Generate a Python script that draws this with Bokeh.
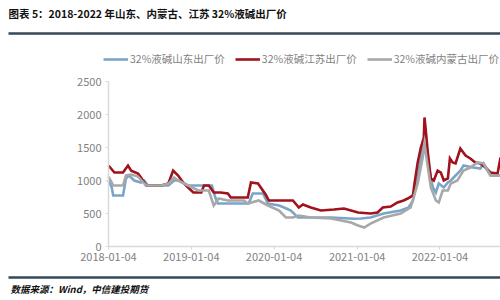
import pandas as pd
from bokeh.plotting import figure
from bokeh.models import (Range1d, FixedTicker, DatetimeTickFormatter, Legend,
                          LegendItem, ColumnDataSource, DatetimeAxis, LinearAxis)
from bokeh.embed import file_html
from bokeh.resources import INLINE
from bokeh.core.properties import value

TITLE = "图表 5：2018-2022 年山东、内蒙古、江苏 32%液碱出厂价"
SOURCE = "数据来源：Wind，中信建投期货"
SERIES_NAMES = ["32%液碱山东出厂价", "32%液碱江苏出厂价", "32%液碱内蒙古出厂价"]
X_TICK_LABELS = ["2018-01-04", "2019-01-04", "2020-01-04", "2021-01-04", "2022-01-04"]
Y_TICKS = [0, 500, 1000, 1500, 2000, 2500]
X_START, X_END = "2018-01-04", "2022-09-28"

sd_dates = ["2018-01-04", "2018-01-18", "2018-01-25", "2018-03-09", "2018-03-22", "2018-04-05",
            "2018-04-27", "2018-05-27", "2018-06-10", "2018-06-27", "2018-09-25", "2018-10-20",
            "2018-11-07", "2018-12-21", "2019-04-05", "2019-04-20", "2019-05-01", "2019-09-14",
            "2019-10-02", "2019-11-16", "2019-12-08", "2020-01-26", "2020-02-17", "2020-03-18",
            "2020-04-18", "2020-09-11", "2020-12-21", "2021-01-21", "2021-03-04", "2021-05-01",
            "2021-07-15", "2021-08-19", "2021-09-07", "2021-09-28", "2021-10-20", "2021-11-04",
            "2021-11-16", "2021-12-04", "2021-12-17", "2021-12-30", "2022-01-21", "2022-02-08",
            "2022-02-21", "2022-03-14", "2022-04-04", "2022-04-18", "2022-05-31", "2022-07-01",
            "2022-07-15", "2022-08-15", "2022-09-28"]
sd_values = [1000, 900, 773, 773, 1030, 1076, 1000, 970, 1000, 924,
             924, 1000, 1000, 924, 924, 742, 651, 651, 803, 803,
             651, 620, 591, 545, 440, 440, 420, 424, 440, 500,
             545, 591, 697, 1045, 1500, 1560, 1197, 894, 818, 955,
             894, 970, 1000, 1076, 1150, 1227, 1197, 1182, 1258, 1076,
             1076]

js_dates = ["2018-01-04", "2018-01-30", "2018-03-09", "2018-03-31", "2018-04-14", "2018-05-14",
            "2018-05-27", "2018-06-19", "2018-08-24", "2018-09-25", "2018-10-16", "2018-11-07",
            "2018-11-29", "2018-12-21", "2019-01-13", "2019-02-17", "2019-03-01", "2019-03-22",
            "2019-04-13", "2019-05-13", "2019-06-14", "2019-06-27", "2019-09-10", "2019-09-24",
            "2019-10-25", "2019-11-29", "2019-12-12", "2020-03-27", "2020-04-22", "2020-05-10",
            "2020-06-14", "2020-07-28", "2020-09-24", "2020-11-07", "2020-12-08", "2021-01-08",
            "2021-03-04", "2021-04-04", "2021-04-27", "2021-06-01", "2021-07-01", "2021-07-28",
            "2021-08-15", "2021-09-07", "2021-09-14", "2021-09-28", "2021-10-12", "2021-10-25",
            "2021-10-28", "2021-11-04", "2021-11-12", "2021-11-25", "2021-12-08", "2021-12-25",
            "2022-01-08", "2022-01-21", "2022-02-08", "2022-02-17", "2022-03-01", "2022-03-14",
            "2022-04-04", "2022-04-27", "2022-05-18", "2022-06-09", "2022-07-01", "2022-07-24",
            "2022-08-15", "2022-09-15", "2022-09-28"]
js_values = [1227, 1121, 1121, 1227, 1150, 1106, 1045, 924, 924, 955,
             1150, 1076, 970, 894, 818, 818, 924, 924, 818, 818,
             803, 742, 742, 970, 955, 780, 697, 697, 591, 636,
             591, 545, 560, 576, 545, 515, 500, 515, 591, 606,
             667, 697, 727, 773, 955, 1273, 1500, 1651, 1955, 1712,
             1409, 1030, 1000, 1150, 1121, 1000, 1030, 1333, 1273, 1258,
             1485, 1379, 1333, 1273, 1258, 1197, 1121, 1106, 1348]

nm_dates = ["2018-01-04", "2018-01-25", "2018-03-09", "2018-03-22", "2018-04-14", "2018-05-14",
            "2018-06-19", "2018-08-24", "2018-09-25", "2018-10-20", "2018-11-07", "2018-12-21",
            "2019-02-04", "2019-03-22", "2019-04-13", "2019-05-05", "2019-06-14", "2019-08-24",
            "2019-09-10", "2019-10-28", "2019-12-08", "2020-01-26", "2020-02-25", "2020-03-27",
            "2020-04-22", "2020-06-14", "2020-09-11", "2020-12-08", "2021-01-08", "2021-02-04",
            "2021-03-04", "2021-05-01", "2021-07-15", "2021-08-28", "2021-09-28", "2021-10-20",
            "2021-10-28", "2021-11-12", "2021-11-25", "2021-12-17", "2021-12-30", "2022-01-16",
            "2022-02-08", "2022-02-21", "2022-03-22", "2022-04-18", "2022-05-18", "2022-06-18",
            "2022-07-15", "2022-08-15", "2022-09-28"]
nm_values = [1060, 924, 924, 1076, 1090, 1060, 924, 924, 950, 1045,
             1000, 924, 848, 848, 621, 727, 697, 697, 651, 697,
             621, 545, 440, 440, 470, 440, 424, 364, 318, 288,
             348, 440, 500, 591, 955, 1348, 1560, 1197, 894, 697,
             667, 848, 848, 955, 1000, 1150, 1197, 1273, 1258, 1076,
             1076]

COLORS = ["#7aa5c8", "#a0121c", "#a8a8a8"]
RULE_COLOR = "#34495a"
CJK = "Noto Sans CJK SC"
W, H = 500, 300

# pixel layout of the plotting area inside the canvas
AX_LEFT, AX_RIGHT = 108, 500
AX_TOP_2500, AX_ZERO = 81, 246

x0 = pd.Timestamp(X_START).timestamp() * 1000
x1 = pd.Timestamp(X_END).timestamp() * 1000
ms_per_px = (x1 - x0) / (AX_RIGHT - AX_LEFT)
v_per_px = 2500 / (AX_ZERO - AX_TOP_2500)

p = figure(width=W, height=H, x_axis_type=None, y_axis_type=None,
           toolbar_location=None, output_backend="svg", min_border=0,
           outline_line_color=None,
           x_range=Range1d(x0 - AX_LEFT * ms_per_px, x1 + (W - AX_RIGHT) * ms_per_px),
           y_range=Range1d(-(H - AX_ZERO) * v_per_px, AX_ZERO * v_per_px))
p.grid.visible = False
p.extra_x_ranges = {"px": Range1d(0, W)}
p.extra_y_ranges = {"px": Range1d(H, 0)}

renderers = []
for (d, v), c in zip([(sd_dates, sd_values), (js_dates, js_values), (nm_dates, nm_values)], COLORS):
    src = ColumnDataSource(dict(x=pd.to_datetime(d), y=v))
    r = p.line("x", "y", source=src, line_color=c, line_width=2.6, line_join="miter")
    renderers.append(r)

fmt = "%Y-%m-%d"
xaxis = DatetimeAxis(fixed_location=0,
                     ticker=FixedTicker(ticks=[pd.Timestamp(s).timestamp() * 1000 for s in X_TICK_LABELS]),
                     formatter=DatetimeTickFormatter(years=fmt, months=fmt, days=fmt, hours=fmt,
                                                     hourmin=fmt, minutes=fmt, minsec=fmt,
                                                     seconds=fmt, milliseconds=fmt, microseconds=fmt),
                     bounds=(x0, x1))
yaxis = LinearAxis(fixed_location=x0, ticker=FixedTicker(ticks=Y_TICKS), bounds=(0, 2500))
for ax in (xaxis, yaxis):
    ax.axis_line_color = "#d9d9d9"
    ax.axis_line_width = 1.5
    ax.major_tick_line_color = "#d9d9d9"
    ax.major_tick_out = 3
    ax.major_tick_in = 0
    ax.minor_tick_line_color = None
    ax.major_label_text_font = CJK
    ax.major_label_text_font_size = "11px"
    ax.major_label_text_color = "#7f7f7f"
yaxis.major_label_standoff = 4
xaxis.major_label_standoff = 3
p.add_layout(xaxis, "below")
p.add_layout(yaxis, "left")

legend = Legend(items=[LegendItem(label=n, renderers=[r]) for n, r in zip(SERIES_NAMES, renderers)],
                orientation="horizontal", location=(103, H - 58 - 8), glyph_width=25, glyph_height=12,
                label_height=12, label_standoff=2, spacing=10, padding=2, margin=0,
                border_line_color=None, background_fill_alpha=0,
                label_text_font=CJK, label_text_font_size="10.5px", label_text_color="#7f7f7f")
p.add_layout(legend)

# header / footer (page furniture, in canvas pixels)
p.text(x=[8], y=[13], text=[TITLE], text_font=value(CJK), text_font_style="bold",
       text_font_size="10.5px", text_color="#111111", text_baseline="middle",
       x_range_name="px", y_range_name="px")
p.segment(x0=[8, 8], y0=[33, 277], x1=[W, W], y1=[33, 277], line_color=RULE_COLOR,
          line_width=2.5, x_range_name="px", y_range_name="px")
p.text(x=[10], y=[288], text=[SOURCE], text_font=value(CJK), text_font_style="bold italic",
       text_font_size="9.5px", text_color="#111111", text_baseline="middle",
       x_range_name="px", y_range_name="px")

open("out.html", "w").write(file_html(p, INLINE))
